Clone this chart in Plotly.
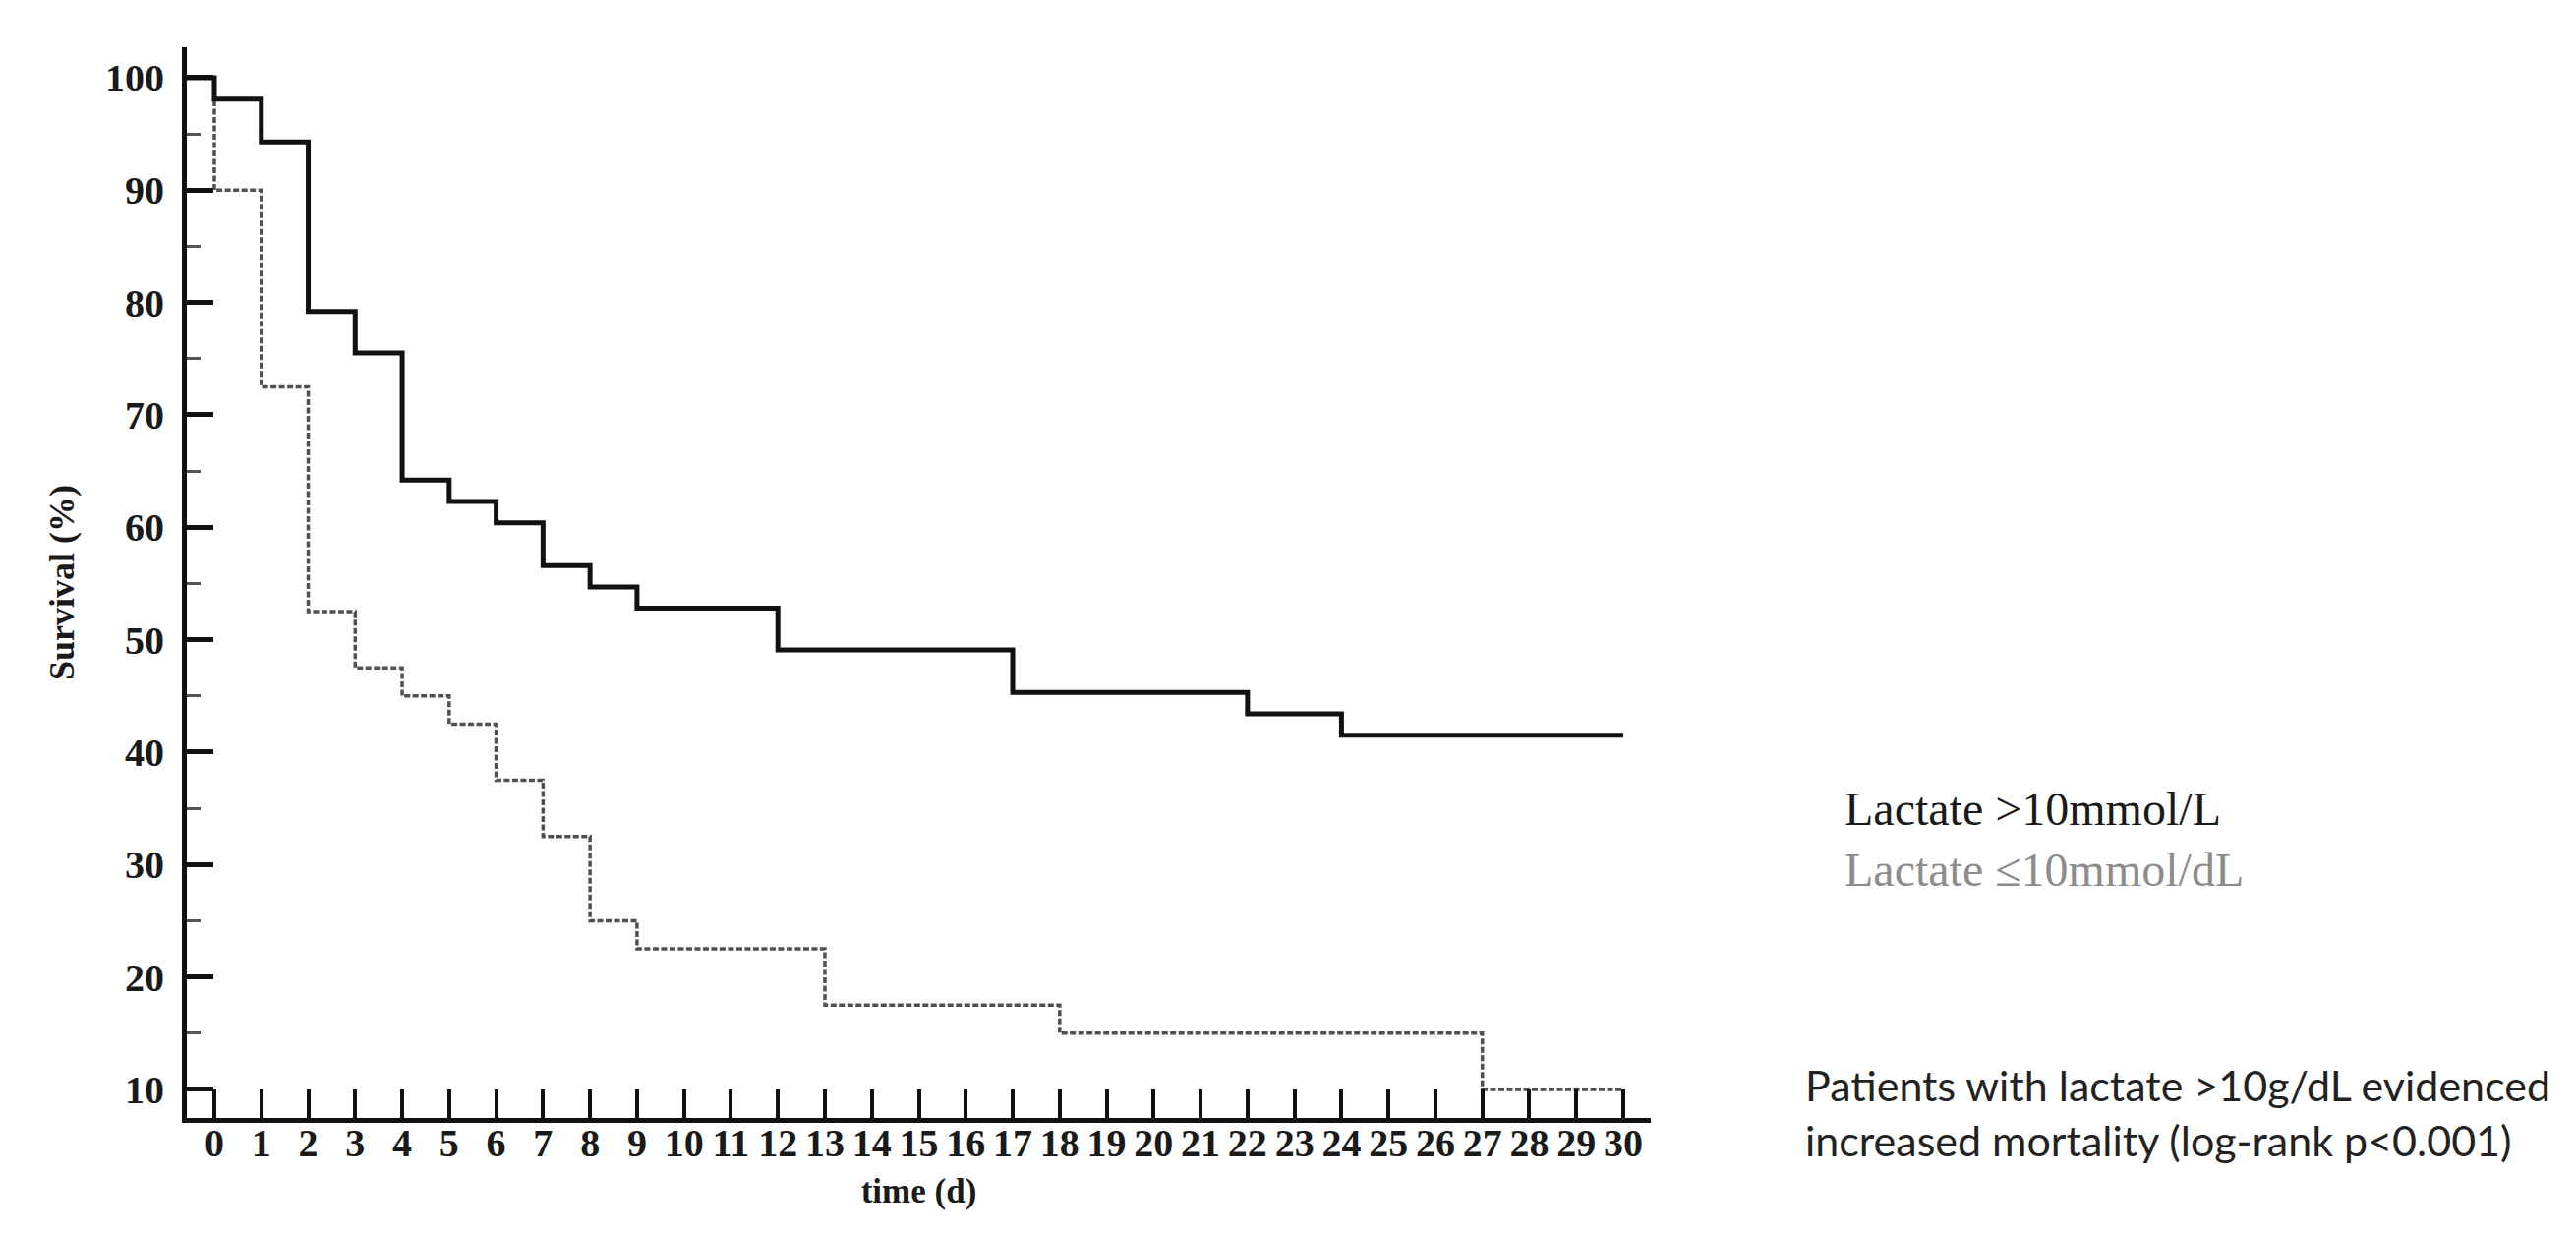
import plotly.graph_objects as go

# ---- data ----
times_high = [0, 1, 2, 3, 4, 5, 6, 7, 8, 9, 12, 17, 22, 24]
surv_high = [98.1, 94.3, 79.2, 75.5, 64.2, 62.3, 60.4, 56.6, 54.7, 52.8, 49.1, 45.3, 43.4, 41.5]

times_low = [0, 1, 2, 3, 4, 5, 6, 7, 8, 9, 13, 18, 27]
surv_low = [90.0, 72.5, 52.5, 47.5, 45.0, 42.5, 37.5, 32.5, 25.0, 22.5, 17.5, 15.0, 10.0]

start_survival = 100
end_time = 30
x_ticks = list(range(0, 31))
y_ticks = list(range(10, 101, 10))

legend_labels = ["Lactate >10mmol/L", "Lactate \u226410mmol/dL"]
note_lines = ["Patients with lactate >10g/dL evidenced",
              "increased mortality (log-rank p<0.001)"]

# ---- layout geometry ----
W, H = 2620, 1256
L, R, T, B = 182, W - 1671, 40, H - 1129
X_RANGE = [-0.586, 30.586]
Y_RANGE = [7.46, 102.71]

plot_w = W - L - R
plot_h = H - T - B


def px_to_paper_x(px):
    return (px - L) / plot_w


def px_to_paper_y(py):
    return (H - B - py) / plot_h


def km_path(times, surv):
    xs = [X_RANGE[0]] + times + [end_time]
    ys = [start_survival] + surv + [surv[-1]]
    return xs, ys


fig = go.Figure()

xl, yl = km_path(times_low, surv_low)
fig.add_trace(go.Scatter(
    x=xl, y=yl, mode="lines", line_shape="hv", name=legend_labels[1],
    line=dict(color="#505050", width=3.5, dash="6px,2.5px"),
    showlegend=False,
))

xh, yh = km_path(times_high, surv_high)
fig.add_trace(go.Scatter(
    x=xh, y=yh, mode="lines", line_shape="hv", name=legend_labels[0],
    line=dict(color="#111111", width=5),
    showlegend=False,
))

serif_bold = dict(family="Liberation Serif", size=40, color="#1a1a1a")

fig.update_xaxes(
    range=X_RANGE, tickmode="array", tickvals=x_ticks,
    ticktext=["<b>%d</b>" % v for v in x_ticks],
    ticks="inside", ticklen=29, tickwidth=4, tickcolor="#111",
    showline=True, linewidth=5, linecolor="#111",
    showgrid=False, zeroline=False,
    tickfont=serif_bold, ticklabelstandoff=-14,
    title=dict(text="<b>time (d)</b>", font=dict(family="Liberation Serif", size=35, color="#1a1a1a"),
               standoff=16),
)
fig.update_yaxes(
    range=Y_RANGE, tickmode="array", tickvals=y_ticks,
    ticktext=["<b>%d</b>" % v for v in y_ticks],
    ticks="inside", ticklen=27, tickwidth=5, tickcolor="#111",
    minor=dict(ticks="inside", ticklen=14, tickwidth=3, tickcolor="#555",
               tickmode="array", tickvals=[v + 5 for v in y_ticks[:-1]]),
    showline=True, linewidth=5, linecolor="#111",
    showgrid=False, zeroline=False,
    tickfont=serif_bold, ticklabelstandoff=10,
    title=dict(text="<b>Survival (%)</b>", font=dict(family="Liberation Serif", size=36, color="#1a1a1a"),
               standoff=22),
)

annotations = [
    dict(text=legend_labels[0], x=px_to_paper_x(1866), y=px_to_paper_y(814),
         font=dict(family="Liberation Serif", size=48, color="#1a1a1a")),
    dict(text=legend_labels[1], x=px_to_paper_x(1866), y=px_to_paper_y(876),
         font=dict(family="Liberation Serif", size=48, color="#8c8c8c")),
    dict(text=note_lines[0], x=px_to_paper_x(1826), y=px_to_paper_y(1095),
         font=dict(family="Lato", size=43, color="#222222")),
    dict(text=note_lines[1], x=px_to_paper_x(1826), y=px_to_paper_y(1151),
         font=dict(family="Lato", size=43, color="#222222")),
]
for a in annotations:
    a.update(xref="paper", yref="paper", xanchor="left", yanchor="middle",
             showarrow=False)

fig.update_layout(
    width=W, height=H,
    margin=dict(l=L, r=R, t=T, b=B),
    paper_bgcolor="white", plot_bgcolor="white",
    annotations=annotations,
)

fig.write_html("out.html")
